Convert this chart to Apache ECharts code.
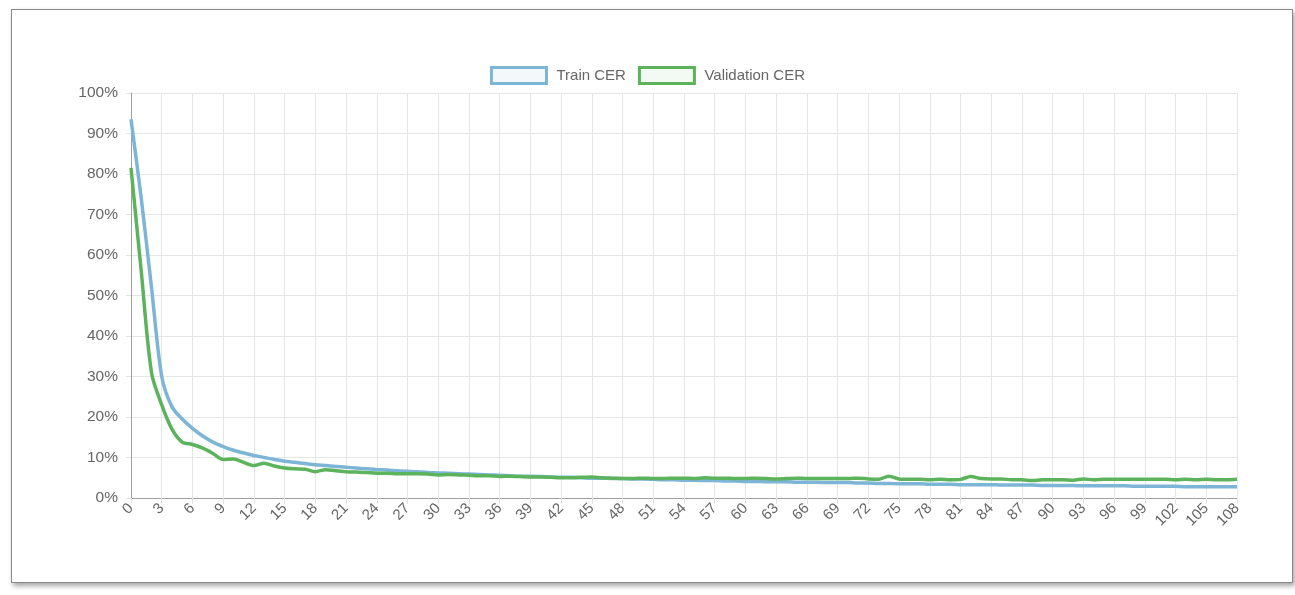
<!DOCTYPE html>
<html>
<head>
<meta charset="utf-8">
<script src="https://cdn.jsdelivr.net/npm/echarts@6/dist/echarts.min.js"></script>
<style>
  html, body { margin: 0; padding: 0; background: #fff; }
  #frame {
    position: absolute; left: 11px; top: 9px; width: 1280px; height: 572px;
    border: 1px solid #8a8a8a; box-shadow: 2px 3px 5px rgba(0, 0, 0, 0.35); background: #fff;
  }
  #chart { position: absolute; left: 0; top: 0; width: 1295px; height: 595px; }
</style>
</head>
<body>
<div id="frame"></div>
<div id="chart"></div>
<script>
// epochs 0..108
const epochs = Array.from({ length: 109 }, (_, i) => String(i))

const trainCER = [
  93.5, 74, 52, 30, 22.5, 19.5, 17.2, 15.3, 13.8, 12.7,
  11.8, 11.1, 10.5, 10.0, 9.5, 9.1, 8.8, 8.5, 8.2, 8.0,
  7.8, 7.6, 7.4, 7.2, 7.0, 6.9, 6.7, 6.6, 6.5, 6.3,
  6.2, 6.1, 6.0, 5.9, 5.8, 5.7, 5.6, 5.5, 5.4, 5.4,
  5.3, 5.2, 5.1, 5.1, 5.0, 4.9, 4.9, 4.8, 4.8, 4.7,
  4.7, 4.6, 4.5, 4.5, 4.4, 4.4, 4.3, 4.3, 4.2, 4.2,
  4.1, 4.1, 4.0, 4.0, 4.0, 3.9, 3.9, 3.9, 3.8, 3.8,
  3.8, 3.7, 3.7, 3.6, 3.6, 3.5, 3.5, 3.5, 3.4, 3.4,
  3.4, 3.3, 3.3, 3.3, 3.3, 3.2, 3.2, 3.2, 3.2, 3.1,
  3.1, 3.1, 3.1, 3.0, 3.0, 3.0, 3.0, 3.0, 2.9, 2.9,
  2.9, 2.9, 2.9, 2.8, 2.8, 2.8, 2.8, 2.8, 2.8
]

const validationCER = [
  81.5, 56, 31, 23, 17, 13.8, 13.2, 12.3, 11, 9.5,
  9.6, 8.8, 8.0, 8.6, 7.9, 7.4, 7.2, 7.1, 6.5, 7.0,
  6.7, 6.5, 6.4, 6.3, 6.1, 6.1, 6.0, 6.0, 6.0, 5.9,
  5.7, 5.8, 5.7, 5.6, 5.5, 5.5, 5.3, 5.4, 5.3, 5.2,
  5.2, 5.1, 5.0, 5.0, 5.1, 5.2, 5.0, 4.9, 4.8, 4.8,
  4.9, 4.8, 4.8, 4.9, 4.9, 4.8, 5.0, 4.9, 4.9, 4.8,
  4.8, 4.9, 4.8, 4.7, 4.8, 4.9, 4.8, 4.8, 4.8, 4.8,
  4.8, 4.9, 4.7, 4.6, 5.4, 4.7, 4.6, 4.6, 4.5, 4.6,
  4.5, 4.6, 5.3, 4.8, 4.7, 4.7, 4.5, 4.5, 4.3, 4.5,
  4.5, 4.5, 4.4, 4.7, 4.5, 4.6, 4.6, 4.6, 4.6, 4.6,
  4.6, 4.6, 4.5, 4.6, 4.5, 4.6, 4.5, 4.5, 4.6
]

const blue = '#7db5d6'
const green = '#5cb35c'
const textColor = '#666'
const font = 'Liberation Sans, Arial, sans-serif'

const chart = echarts.init(document.getElementById('chart'))

const option = {
  animation: false,
  textStyle: { fontFamily: font },
  legend: {
    top: 61,
    left: 'center',
    itemWidth: 55,
    itemHeight: 16,
    itemGap: 12,
    textStyle: { color: textColor, fontSize: 15, fontFamily: font, padding: [0, 0, 0, 5] },
    data: [
      { name: 'Train CER', icon: 'rect', itemStyle: { color: '#f3f8fb', borderColor: blue, borderWidth: 3 } },
      { name: 'Validation CER', icon: 'rect', itemStyle: { color: '#f3f9f3', borderColor: green, borderWidth: 3 } }
    ]
  },
  grid: { left: 131, right: 58, top: 93, bottom: 97 },
  xAxis: {
    type: 'category',
    boundaryGap: false,
    data: epochs,
    axisLine: { lineStyle: { color: '#a0a0a0' } },
    axisTick: { interval: 2, length: 6, lineStyle: { color: '#e2e2e2' } },
    axisLabel: { interval: 2, rotate: 45, margin: 8, color: textColor, fontSize: 15, fontFamily: font },
    splitLine: { show: true, interval: 2, lineStyle: { color: '#e6e6e6' } }
  },
  yAxis: {
    type: 'value',
    min: 0,
    max: 100,
    interval: 10,
    axisLine: { show: true, lineStyle: { color: '#a0a0a0' } },
    axisTick: { show: true, length: 5, lineStyle: { color: '#e2e2e2' } },
    axisLabel: { formatter: '{value}%', margin: 13, color: textColor, fontSize: 15.5, fontFamily: font },
    splitLine: { lineStyle: { color: '#e6e6e6' } }
  },
  series: [
    {
      name: 'Train CER',
      type: 'line',
      data: trainCER,
      smooth: 0.3,
      showSymbol: false,
      color: blue,
      lineStyle: { width: 3.5, color: blue }
    },
    {
      name: 'Validation CER',
      type: 'line',
      data: validationCER,
      smooth: 0.3,
      showSymbol: false,
      color: green,
      lineStyle: { width: 3.5, color: green }
    }
  ]
}

chart.setOption(option)
</script>
</body>
</html>
